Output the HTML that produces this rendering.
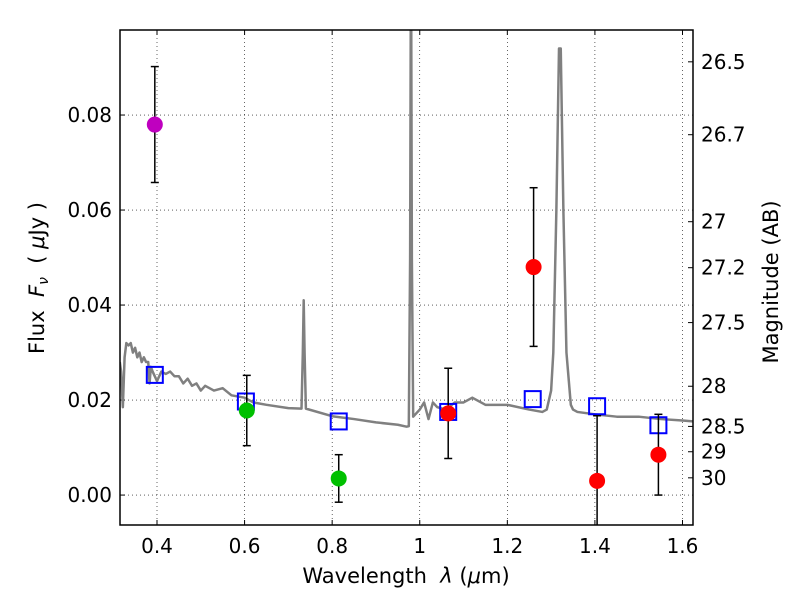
<!DOCTYPE html>
<html><head><meta charset="utf-8"><style>
html,body{margin:0;padding:0;background:#fff;}
svg{display:block;font-family:"DejaVu Sans","Liberation Sans",sans-serif;}
</style></head><body>
<svg id="chart" width="800" height="600" xmlns="http://www.w3.org/2000/svg"></svg>
<script>
const xTicks=[0.4,0.6,0.8,1.0,1.2,1.4,1.6];
const xTickLabels=["0.4","0.6","0.8","1","1.2","1.4","1.6"];
const yTicks=[0,0.02,0.04,0.06,0.08];
const yTickLabels=["0.00","0.02","0.04","0.06","0.08"];
const magTicks=[26.5,26.7,27,27.2,27.5,28,28.5,29,30];
const magLabels=["26.5","26.7","27","27.2","27.5","28","28.5","29","30"];
const specWave=[0.315,0.318,0.322,0.326,0.33,0.335,0.34,0.345,0.35,0.355,0.36,0.365,0.37,0.375,0.38,0.383,0.386,0.39,0.395,0.40,0.41,0.42,0.43,0.44,0.45,0.46,0.47,0.48,0.49,0.5,0.51,0.52,0.53,0.55,0.57,0.6,0.62,0.65,0.7,0.73,0.733,0.735,0.737,0.74,0.8,0.85,0.9,0.95,0.97,0.975,0.978,0.98,0.982,0.985,1.0,1.01,1.02,1.03,1.04,1.06,1.08,1.1,1.12,1.15,1.2,1.25,1.28,1.29,1.30,1.305,1.312,1.318,1.322,1.328,1.335,1.345,1.35,1.36,1.4,1.45,1.5,1.55,1.6,1.624];
const specFlux=[0.028,0.026,0.0185,0.029,0.032,0.0315,0.032,0.030,0.031,0.029,0.030,0.028,0.029,0.028,0.028,0.0235,0.027,0.026,0.025,0.024,0.026,0.0255,0.026,0.025,0.025,0.0235,0.0245,0.023,0.0235,0.022,0.023,0.0225,0.022,0.0225,0.021,0.0205,0.0195,0.019,0.0183,0.0182,0.030,0.041,0.030,0.0182,0.0166,0.016,0.0153,0.0148,0.0144,0.0145,0.05,0.12,0.05,0.0165,0.018,0.0195,0.016,0.0195,0.0185,0.018,0.0195,0.0195,0.0205,0.019,0.019,0.018,0.0175,0.018,0.022,0.03,0.06,0.094,0.094,0.06,0.03,0.019,0.018,0.0175,0.017,0.0165,0.0165,0.016,0.0157,0.0155];
const photWave=[0.395,0.603,0.815,1.065,1.258,1.405,1.545];
const photModel=[0.0253,0.0197,0.0155,0.0175,0.0202,0.0187,0.0147];
const obsWave=[0.395,0.605,0.815,1.065,1.26,1.405,1.545];
const obsFlux=[0.078,0.0178,0.0035,0.0172,0.048,0.003,0.0085];
const obsErr=[0.0122,0.0074,0.005,0.0095,0.0167,0.0137,0.0085];
const obsColor=["#bf00bf","#00c000","#00c000","#ff0000","#ff0000","#ff0000","#ff0000"];

const L=120,R=693,T=30,B=525;
const xmin=0.3155,xmax=1.624,ymin=-0.0063,ymax=0.0979;
const X=v=>L+(v-xmin)/(xmax-xmin)*(R-L);
const Y=v=>B-(v-ymin)/(ymax-ymin)*(B-T);
const svg=document.getElementById('chart');
const NS="http://www.w3.org/2000/svg";
function mk(tag,attrs,parent){const e=document.createElementNS(NS,tag);for(const k in attrs)e.setAttribute(k,attrs[k]);(parent||svg).appendChild(e);return e;}

const clip=mk('clipPath',{id:'clp'});mk('rect',{x:L,y:T,width:R-L,height:B-T},clip);

xTicks.forEach((t,i)=>{
  const g=mk('line',{x1:X(t),x2:X(t),y1:T,y2:B,stroke:'#000','stroke-width':0.6,'stroke-dasharray':'1,3'});
  
  
  mk('line',{x1:X(t),x2:X(t),y1:B,y2:B-5,stroke:'#000'});
  mk('line',{x1:X(t),x2:X(t),y1:T,y2:T+5,stroke:'#000'});
  const tx=mk('text',{x:X(t),y:B+28,'text-anchor':'middle','font-size':20});tx.textContent=xTickLabels[i];
  
  
});
yTicks.forEach((t,i)=>{
  const g=mk('line',{x1:L,x2:R,y1:Y(t),y2:Y(t),stroke:'#000','stroke-width':0.6,'stroke-dasharray':'1,3'});
  
  
  mk('line',{x1:L,x2:L+5,y1:Y(t),y2:Y(t),stroke:'#000'});
  const tx=mk('text',{x:L-8,y:Y(t)+7,'text-anchor':'end','font-size':20});tx.textContent=yTickLabels[i];
  
  
});
magTicks.forEach((m,i)=>{
  const f=Math.pow(10,(23.9-m)/2.5);
  mk('line',{x1:R,x2:R-5,y1:Y(f),y2:Y(f),stroke:'#000'});
  const tx=mk('text',{x:R+8,y:Y(f)+7,'font-size':20});tx.textContent=magLabels[i];
  
  
});

const gp=mk('g',{'clip-path':'url(#clp)'});
const sp=mk('polyline',{points:specWave.map((w,i)=>X(w)+','+Y(specFlux[i])).join(' '),fill:'none',stroke:'#808080','stroke-width':2.5,'stroke-linejoin':'round'},gp);



photWave.forEach((w,i)=>{
  const r=mk('rect',{x:X(w)-8,y:Y(photModel[i])-8,width:16,height:16,fill:'none',stroke:'#0000ff','stroke-width':2},gp);
  
  
});
obsWave.forEach((w,i)=>{
  const x=X(w),lo=Y(obsFlux[i]-obsErr[i]),hi=Y(obsFlux[i]+obsErr[i]);
  const e=mk('line',{x1:x,x2:x,y1:hi,y2:lo,stroke:'#000','stroke-width':1.5},gp);
  
  
  mk('line',{x1:x-4,x2:x+4,y1:hi,y2:hi,stroke:'#000','stroke-width':1.5},gp);
  mk('line',{x1:x-4,x2:x+4,y1:lo,y2:lo,stroke:'#000','stroke-width':1.5},gp);
  const c=mk('circle',{cx:x,cy:Y(obsFlux[i]),r:8,fill:obsColor[i]},gp);
  
  
});

const fr=mk('rect',{x:L,y:T,width:R-L,height:B-T,fill:'none',stroke:'#000','stroke-width':1.5});



const xl=mk('text',{x:406,y:583,'text-anchor':'middle','font-size':21});
xl.innerHTML='Wavelength&#160; <tspan font-style="italic">λ</tspan> (<tspan font-style="italic">μ</tspan>m)';


const yl=mk('text',{x:44,y:278,'text-anchor':'middle','font-size':21,transform:'rotate(-90 44 278)'});
yl.innerHTML='Flux&#160; <tspan font-style="italic">F<tspan font-size="14" dy="4">ν</tspan></tspan><tspan dy="-4">&#160; (&#160;</tspan><tspan font-style="italic">μ</tspan>Jy )';


const ml=mk('text',{x:778,y:282,'text-anchor':'middle','font-size':21,transform:'rotate(-90 778 282)'});
ml.textContent='Magnitude (AB)';


</script>
</body></html>
